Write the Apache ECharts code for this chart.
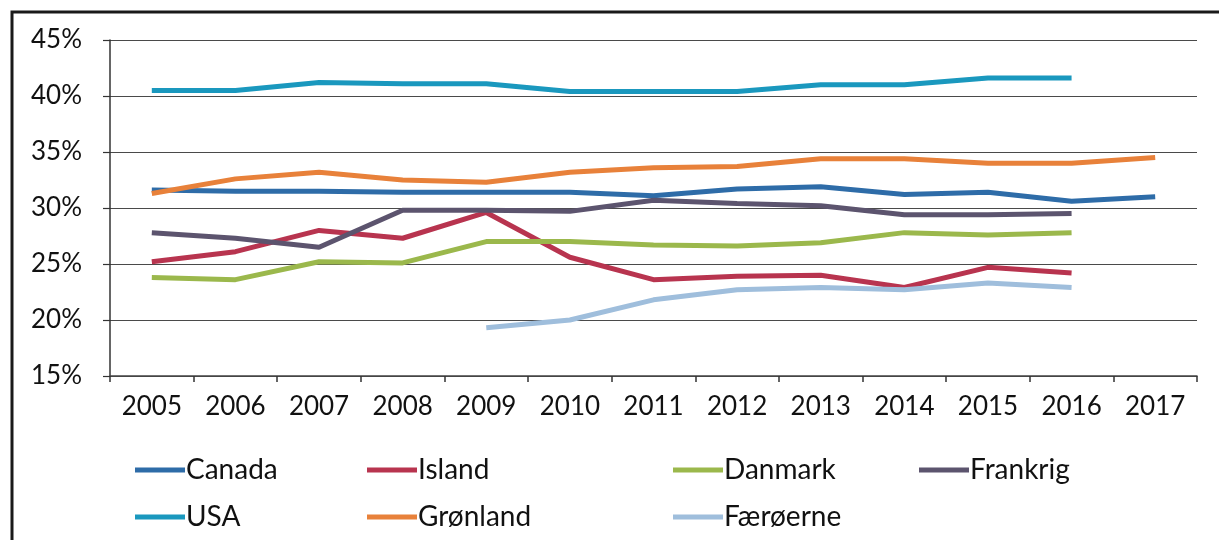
<!DOCTYPE html>
<html>
<head>
<meta charset="utf-8">
<script src="https://cdn.jsdelivr.net/npm/echarts@6/dist/echarts.min.js"></script>
<style>
html,body{margin:0;padding:0;background:#fff;}
#chart{width:1219px;height:540px;}
</style>
</head>
<body>
<div id="chart"></div>
<script>
const years = ['2005','2006','2007','2008','2009','2010','2011','2012','2013','2014','2015','2016','2017'];
const yTicks = [15, 20, 25, 30, 35, 40, 45];
const canada   = [31.6,31.5,31.5,31.4,31.4,31.4,31.1,31.7,31.9,31.2,31.4,30.6,31.0];
const island   = [25.2,26.1,28.0,27.3,29.6,25.6,23.6,23.9,24.0,22.9,24.7,24.2,null];
const danmark  = [23.8,23.6,25.2,25.1,27.0,27.0,26.7,26.6,26.9,27.8,27.6,27.8,null];
const frankrig = [27.8,27.3,26.5,29.8,29.8,29.7,30.7,30.4,30.2,29.4,29.4,29.5,null];
const usa      = [40.5,40.5,41.2,41.1,41.1,40.4,40.4,40.4,41.0,41.0,41.6,41.6,null];
const groenland= [31.3,32.6,33.2,32.5,32.3,33.2,33.6,33.7,34.4,34.4,34.0,34.0,34.5];
const faeroerne= [null,null,null,null,19.3,20.0,21.8,22.7,22.9,22.7,23.3,22.9,null];

const colors = {
  'Canada':'#2E6CA8','Island':'#B8344F','Danmark':'#9BB84C','Frankrig':'#5C546E',
  'USA':'#1A98BE','Grønland':'#E8813A','Færøerne':'#9FBEDC'
};
const seriesDefs = [
  ['Canada', canada], ['Island', island], ['Danmark', danmark], ['Frankrig', frankrig],
  ['USA', usa], ['Grønland', groenland], ['Færøerne', faeroerne]
];
const FONT = 'Lato';
const legendBase = {
  orient: 'vertical', top: 451, itemGap: 19, itemWidth: 50, itemHeight: 5, icon: 'rect',
  textStyle: { fontFamily: FONT, fontSize: 28, color: '#111', padding: [0,0,0,-4] }
};
const chart = echarts.init(document.getElementById('chart'));
chart.setOption({
  backgroundColor: '#fff',
  animation: false,
  graphic: [{
    type: 'rect', shape: { x: 12, y: 12, width: 1400, height: 800 },
    style: { fill: 'none', stroke: '#1a1a1a', lineWidth: 3 }, silent: true, z: 100
  }],
  grid: { left: 110, right: 22, top: 40, bottom: 164, containLabel: false },
  legend: [
    Object.assign({ left: 130, data: ['Canada', 'USA'] }, legendBase),
    Object.assign({ left: 362, data: ['Island', 'Grønland'] }, legendBase),
    Object.assign({ left: 668, data: ['Danmark', 'Færøerne'] }, legendBase),
    Object.assign({ left: 914, data: ['Frankrig'] }, legendBase)
  ],
  xAxis: {
    type: 'category', data: years, boundaryGap: true,
    axisLine: { lineStyle: { color: '#444', width: 1.5 } },
    axisTick: { show: true, length: 6, lineStyle: { color: '#333', width: 1.5 } },
    axisLabel: { fontFamily: FONT, fontSize: 26, color: '#111', margin: 18 }
  },
  yAxis: {
    type: 'value', min: 15, max: 45, interval: 5,
    axisLine: { show: true, lineStyle: { color: '#333', width: 1.5 } },
    axisTick: { show: true, length: 7, lineStyle: { color: '#333', width: 1.2 } },
    splitLine: { lineStyle: { color: '#4a4a4a', width: 1.2 } },
    axisLabel: { fontFamily: FONT, fontSize: 26, color: '#111', margin: 28,
      formatter: v => yTicks.includes(v) ? v + '%' : '' }
  },
  series: seriesDefs.map(([name, data]) => ({
    name, type: 'line', data, symbol: 'none', smooth: false,
    lineStyle: { width: 5, color: colors[name] },
    itemStyle: { color: colors[name] }
  }))
});
</script>
</body>
</html>
